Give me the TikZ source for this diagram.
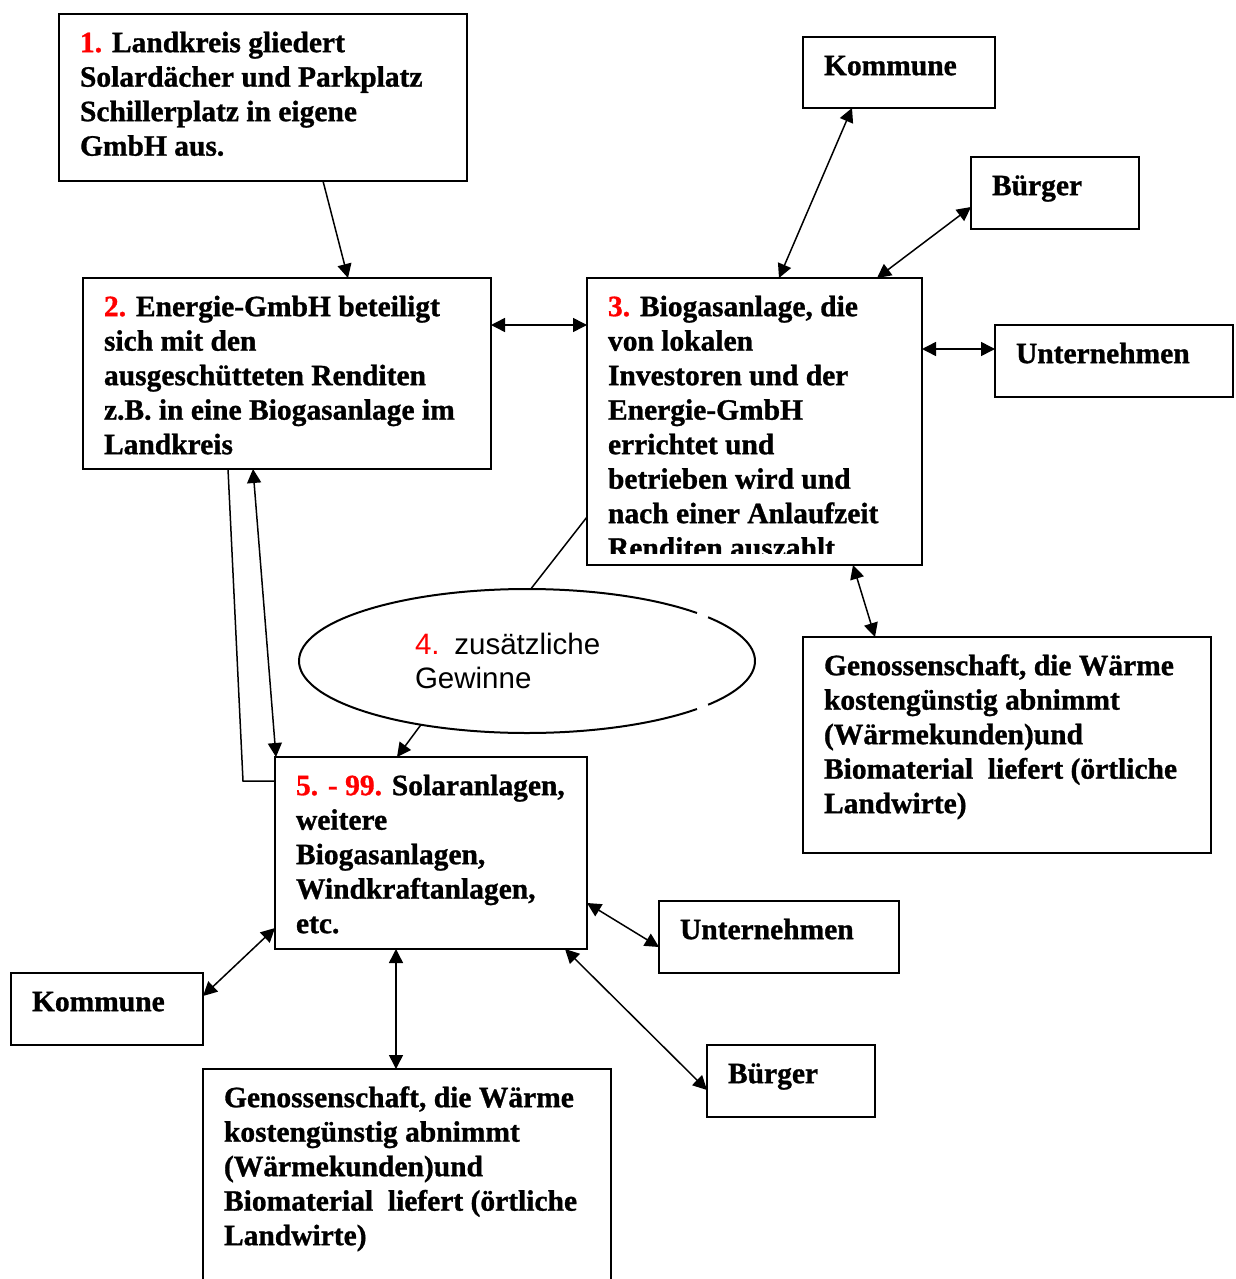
\documentclass[tikz,border=0pt]{standalone}
\usepackage{fontspec}
\setmainfont{Liberation Serif}[BoldFeatures={FakeBold=1}]
\setsansfont{Liberation Sans}
\usepackage{xcolor}
\usetikzlibrary{shapes, arrows.meta}

\newcommand{\nr}[1]{\textcolor{red}{#1}}
\newcommand{\boxtext}[3]{\parbox[c][#2][t]{#1}{\begin{tabular}[t]{@{}l@{}}#3\end{tabular}}}

\tikzset{
	blk/.style = {draw, line width=2pt, outer sep=0pt, inner xsep=21pt, inner ysep=14pt,
		anchor=north west, font=\fontsize{29.5}{34.5}\selectfont\bfseries},
	link/.style = {line width=1.5pt},
}

\begin{document}
\begin{tikzpicture}[x=1pt, y=-1pt, > = {Triangle[length=14pt, width=14pt]}]
			\useasboundingbox (0,0) rectangle (1235,1279);
			
			%% Landkreis und Energie-GmbH
			\node [blk] (box1) at (59,14) {\boxtext{366pt}{139pt}{\nr{1.} Landkreis gliedert\\ Solardächer und Parkplatz\\ Schillerplatz in eigene\\ GmbH aus.}};
			\node [blk] (box2) at (83,278) {\boxtext{366pt}{163pt}{\nr{2.} Energie-GmbH beteiligt\\ sich mit den\\ ausgeschütteten Renditen\\ z.B. in eine Biogasanlage im\\ Landkreis}};
			
			%% Biogasanlage (Text unten abgeschnitten)
			\begin{scope}
				\clip (575,270) rectangle (935,553);
				\node [blk, draw=none] (box3) at (587,278) {\boxtext{293pt}{259pt}{\nr{3.} Biogasanlage, die\\ von lokalen\\ Investoren und der\\ Energie-GmbH\\ errichtet und\\ betrieben wird und\\ nach einer Anlaufzeit\\ Renditen auszahlt}};
			\end{scope}
			\draw [line width=2pt] (box3.north west) rectangle (box3.south east);
			
			%% Partner rechts
			\node [blk] (kom1) at (803,37) {\boxtext{150pt}{43pt}{Kommune}};
			\node [blk] (bue1) at (971,157) {\boxtext{126pt}{44pt}{Bürger}};
			\node [blk] (unt1) at (995,325) {\boxtext{196pt}{44pt}{Unternehmen}};
			\node [blk] (gen1) at (803,637) {\boxtext{366pt}{188pt}{Genossenschaft, die Wärme\\ kostengünstig abnimmt\\ (Wärmekunden)und\\ Biomaterial\ \ liefert (örtliche\\ Landwirte)}};
			
			%% Gewinne
			\node [ellipse, outer sep=0pt, inner sep=0pt, minimum width=456pt, minimum height=144pt,
				text width=224pt, align=left, font=\fontsize{29.5}{34.5}\selectfont\sffamily] (gain) at (527,661) {\nr{4.} zusätzliche\\ Gewinne};
			\draw [line width=2pt] (gain.center) ++(41.8:228pt and 72pt) arc [start angle=41.8, end angle=318.2, x radius=228pt, y radius=72pt];
			\draw [line width=2pt] (gain.center) ++(-37.4:228pt and 72pt) arc [start angle=-37.4, end angle=37.4, x radius=228pt, y radius=72pt];
			
			%% Weitere Anlagen
			\node [blk] (box5) at (275,757) {\boxtext{270pt}{164pt}{\nr{5. - 99.} Solaranlagen,\\ weitere\\ Biogasanlagen,\\ Windkraftanlagen,\\ etc.}};
			\node [blk] (kom2) at (11,973) {\boxtext{150pt}{44pt}{Kommune}};
			\node [blk] (unt2) at (659,901) {\boxtext{198pt}{44pt}{Unternehmen}};
			\node [blk] (bue2) at (707,1045) {\boxtext{126pt}{44pt}{Bürger}};
			\node [blk] (gen2) at (203,1069) {\boxtext{366pt}{192pt}{Genossenschaft, die Wärme\\ kostengünstig abnimmt\\ (Wärmekunden)und\\ Biomaterial\ \ liefert (örtliche\\ Landwirte)}};
			
			%% Verbindungen oben
			\draw [link, ->] ([xshift=264pt]box1.south west) -- ([xshift=265pt]box2.north west);
			\draw [link, <->] ([yshift=-47pt]box2.north east) -- ([yshift=-47pt]box3.north west);
			\draw [link, <->] ([xshift=192pt]box3.north west) -- ([xshift=49pt]kom1.south west);
			\draw [link, <->] ([xshift=290pt]box3.north west) -- ([yshift=-50pt]bue1.north west);
			\draw [link, <->] ([yshift=-71pt]box3.north east) -- ([yshift=-24pt]unt1.north west);
			\draw [link, <->] ([xshift=266pt]box3.south west) -- ([xshift=72pt]gen1.north west);
			
			%% Verbindungen Mitte
			\draw [link, <->] ([xshift=170pt]box2.south west) -- ([xshift=1pt]box5.north west);
			\draw [link] ([xshift=145pt]box2.south west) -- ([xshift=-32pt, yshift=-24pt]box5.north west) -- ([yshift=-24pt]box5.north west);
			\draw [link] ([yshift=-239pt]box3.north west) -- (gain.87.6);
			\draw [link, ->] (gain.211.7) -- ([xshift=122pt]box5.north west);
			
			%% Verbindungen unten
			\draw [link, <->] ([yshift=-171pt]box5.north west) -- ([yshift=-23pt]kom2.north east);
			\draw [link, <->] ([yshift=-146pt]box5.north east) -- ([yshift=-46pt]unt2.north west);
			\draw [link, <->] ([xshift=121pt]box5.south west) -- ([xshift=193pt]gen2.north west);
			\draw [link, <->] ([xshift=290pt]box5.south west) -- ([yshift=-45pt]bue2.north west);
		\end{tikzpicture}
\end{document}
